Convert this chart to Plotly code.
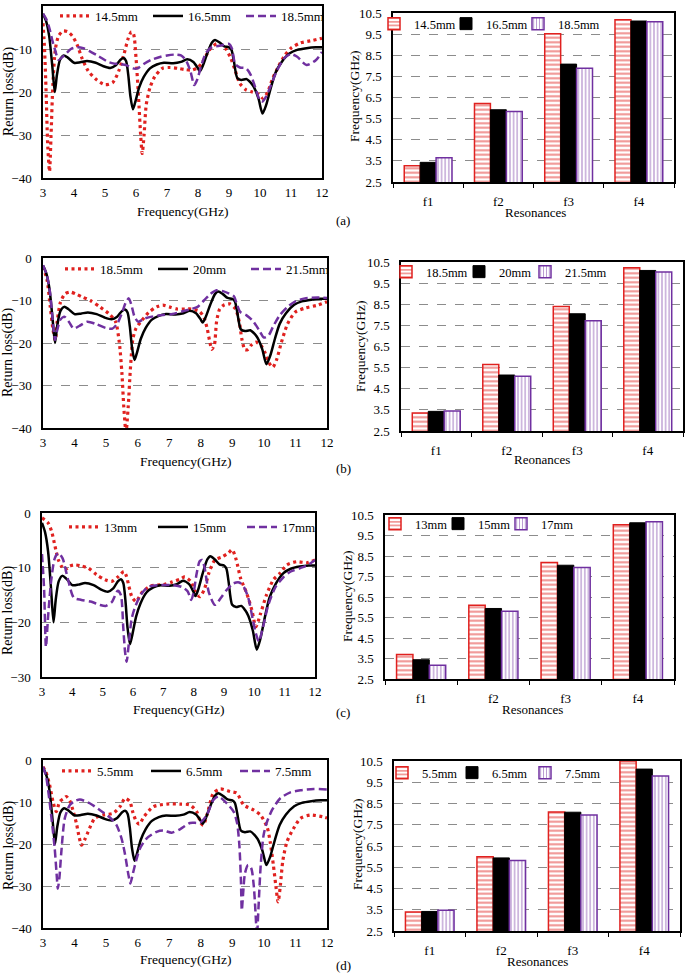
import plotly.graph_objects as go

FONT = "Liberation Serif"
RED = "#e0211f"
BLACK = "#000000"
PURPLE = "#7030a0"
GRID = "#8c8c8c"

# ---------------- data: return loss curves ----------------
# reference design curve (black, identical in all four panels)
ref_freq = [3.0, 3.1, 3.2, 3.3, 3.38, 3.45, 3.55, 3.67, 3.8, 4.0, 4.2, 4.42, 4.7, 4.95, 5.17, 5.35, 5.5, 5.6,
            5.68, 5.75, 5.82, 5.9, 5.97, 6.1, 6.25, 6.45, 6.67, 6.9, 7.2, 7.45, 7.65, 7.85, 8.0, 8.06, 8.15, 8.3,
            8.45, 8.55, 8.7, 8.85, 9.0, 9.08, 9.15, 9.27, 9.4, 9.57, 9.7, 9.8, 9.95, 10.08, 10.2, 10.35, 10.5,
            10.7, 10.96, 11.2, 11.5, 11.8, 12.0]
ref_rl = [-1.8, -3.5, -7, -14, -20, -16, -12.5, -11.5, -12, -13.2, -13.1, -12.8, -13.2, -14, -14.4, -13.8, -12.5,
          -12.1, -12.8, -16, -21, -24, -22.5, -19, -16.5, -14.5, -13.6, -13.2, -13.3, -13.0, -12.4, -13, -14.5,
          -15.2, -14, -11, -8.5, -7.9, -8.5, -9.4, -9.6, -10.2, -12.5, -16.8, -17.2, -17, -17.8, -18.8, -21.5,
          -25, -23, -19, -15.5, -13, -11, -10.2, -9.8, -9.6, -9.6]

# (a)
a_names = ["14.5mm", "16.5mm", "18.5mm"]
a_red_f = [3.0, 3.05, 3.1, 3.15, 3.21, 3.26, 3.32, 3.4, 3.5, 3.65, 3.8, 3.95, 4.1, 4.25, 4.45, 4.7, 5.0, 5.25,
           5.45, 5.62, 5.75, 5.85, 5.92, 6.0, 6.08, 6.15, 6.2, 6.26, 6.33, 6.45, 6.6, 6.85, 7.1, 7.35, 7.6, 7.8,
           8.0, 8.15, 8.3, 8.45, 8.6, 8.75, 8.9, 9.05, 9.2, 9.35, 9.55, 9.75, 9.95, 10.1, 10.25, 10.4, 10.6,
           10.8, 11.0, 11.3, 11.7, 12.0]
a_red_rl = [-4, -10, -20, -32, -38.5, -30, -18, -10, -7, -5.8, -6, -7, -9, -12, -15, -17, -18.3, -17.8, -15, -11,
            -7.5, -6, -6.5, -12, -21, -30, -34.3, -30, -23, -19, -16.5, -14.5, -14.3, -14.5, -14.8, -14.9, -14.3,
            -13, -11, -9.5, -8.8, -9, -10, -12, -15, -18, -19.5, -20, -20.5, -21.5, -20, -17, -14, -11.5, -9.8,
            -8.6, -8.0, -7.5]
a_pur_f = [3.0, 3.1, 3.2, 3.3, 3.4, 3.5, 3.6, 3.75, 3.9, 4.1, 4.3, 4.5, 4.8, 5.1, 5.3, 5.5, 5.7, 5.9, 6.05, 6.25,
           6.5, 6.8, 7.0, 7.25, 7.45, 7.6, 7.75, 7.88, 7.98, 8.1, 8.25, 8.45, 8.65, 8.85, 9.0, 9.1, 9.2, 9.35,
           9.55, 9.7, 9.85, 10.0, 10.08, 10.2, 10.35, 10.55, 10.8, 11.0, 11.2, 11.5, 11.8, 12.0]
a_pur_rl = [-1.8, -3, -5, -8, -10.5, -12.5, -12, -11, -10, -9.6, -9.8, -10.5, -11.7, -13, -13.4, -13.5, -13.8,
            -14.5, -14.5, -13.5, -12.5, -11.8, -11.5, -11.3, -11.5, -12.5, -15, -18.4, -17, -14, -11, -9.5, -9.3,
            -9.0, -8.8, -10, -13.5, -14.3, -14.5, -16, -19, -22, -22.2, -21, -18.5, -15, -12, -11.2, -11.8,
            -13.7, -12.6, -10.7]

# (b)
b_names = ["18.5mm", "20mm", "21.5mm"]
b_red_f = [3.0, 3.13, 3.23, 3.32, 3.39, 3.45, 3.55, 3.7, 3.86, 4.05, 4.25, 4.5, 4.8, 5.1, 5.3, 5.42, 5.5, 5.56,
           5.63, 5.7, 5.77, 5.85, 5.95, 6.1, 6.35, 6.6, 6.8, 7.0, 7.25, 7.5, 7.7, 7.95, 8.1, 8.2, 8.28, 8.35,
           8.43, 8.5, 8.6, 8.75, 8.92, 9.1, 9.22, 9.3, 9.4, 9.5, 9.6, 9.75, 9.9, 10.05, 10.15, 10.28, 10.4,
           10.55, 10.75, 11.0, 11.3, 11.7, 12.0]
b_red_rl = [-2, -5.2, -11.5, -17, -19.3, -15, -10.5, -8.4, -8, -8.5, -9.2, -10, -11.5, -13.2, -15, -20, -27, -35,
            -41, -35, -26, -19, -16.5, -15, -12.8, -11.5, -11.1, -11.5, -12, -12, -12, -12.5, -14, -16.5, -19.5,
            -21.5, -20.5, -15, -12, -11, -10.8, -12, -15, -19, -21.6, -21.5, -20.5, -19.8, -20.5, -22.5, -24.5,
            -25.7, -24, -20, -15.5, -12.7, -11.8, -11.1, -10.3]
b_pur_f = [3.0, 3.12, 3.22, 3.3, 3.38, 3.45, 3.55, 3.68, 3.82, 3.97, 4.15, 4.4, 4.7, 5.0, 5.2, 5.35, 5.5, 5.62,
           5.72, 5.8, 5.9, 6.02, 6.2, 6.45, 6.8, 7.1, 7.4, 7.7, 7.9, 8.1, 8.3, 8.5, 8.7, 8.9, 9.05, 9.15, 9.25,
           9.45, 9.65, 9.85, 10.0, 10.15, 10.3, 10.5, 10.75, 11.0, 11.3, 11.7, 12.0]
b_pur_rl = [-1.7, -4, -8, -14, -19.3, -17, -14.5, -13.8, -15, -16.6, -16, -15, -15.6, -16.5, -16.6, -15.5, -13,
            -10.5, -9.5, -11, -13.8, -15, -14.3, -13.8, -13.4, -13.2, -12.6, -12, -11.5, -10, -8.5, -7.6, -7.8,
            -8.4, -9, -11, -12.7, -13.5, -14.8, -17, -18.7, -18.2, -16, -13.5, -11.5, -10.2, -9.5, -9.3, -9.4]

# (c)
c_names = ["13mm", "15mm", "17mm"]
c_red_f = [3.0, 3.2, 3.32, 3.43, 3.54, 3.65, 3.76, 3.92, 4.1, 4.3, 4.53, 4.8, 5.08, 5.3, 5.52, 5.7, 5.78, 5.87,
           5.96, 6.1, 6.3, 6.6, 7.0, 7.3, 7.55, 7.71, 7.9, 8.05, 8.2, 8.35, 8.5, 8.7, 8.95, 9.15, 9.27, 9.4,
           9.55, 9.75, 9.92, 10.05, 10.2, 10.4, 10.63, 10.85, 11.07, 11.4, 11.73, 12.0]
c_red_rl = [-0.9, -1.8, -3.4, -6.1, -8.6, -9.8, -10.4, -9.7, -9.5, -9.7, -10.1, -11.3, -12.2, -12.5, -11.6,
            -10.7, -11.5, -13.5, -15.3, -16.2, -14.5, -13.3, -13.1, -12.6, -12.1, -11.7, -12.5, -14.3, -15.3,
            -14, -11, -8.6, -8.0, -7.3, -6.7, -8.5, -12, -14.7, -17.8, -20.8, -18.5, -15, -12.2, -11.0, -9.5,
            -8.9, -9.1, -8.6]
c_pur_f = [3.0, 3.07, 3.13, 3.2, 3.3, 3.42, 3.54, 3.68, 3.85, 4.05, 4.3, 4.6, 4.9, 5.1, 5.3, 5.5, 5.6, 5.68,
           5.74, 5.79, 5.86, 5.95, 6.05, 6.25, 6.5, 6.9, 7.3, 7.6, 7.8, 7.92, 8.0, 8.1, 8.2, 8.28, 8.36, 8.5,
           8.7, 8.9, 9.1, 9.3, 9.5, 9.65, 9.8, 9.95, 10.05, 10.15, 10.28, 10.45, 10.7, 10.95, 11.2, 11.5, 11.8,
           12.0]
c_pur_rl = [-7.5, -14, -24.5, -19, -12.5, -8.3, -7.3, -8.3, -12, -15.5, -15.9, -16.2, -16.8, -17, -16.3, -14.2,
            -15, -21, -25.5, -27.2, -24, -19.5, -17.5, -15, -13.5, -13.2, -13.2, -13.5, -14.3, -15.9, -14.5, -11,
            -8.8, -8.6, -10, -14.5, -16.8, -15.5, -14, -12.9, -12.7, -13.5, -15.5, -19.5, -22, -23.5, -21, -17,
            -13.5, -11.8, -10.7, -10.1, -9.4, -8.6]

# (d)
d_names = ["5.5mm", "6.5mm", "7.5mm"]
d_red_f = [3.0, 3.1, 3.21, 3.32, 3.42, 3.53, 3.65, 3.74, 3.85, 3.95, 4.06, 4.15, 4.22, 4.32, 4.43, 4.64, 4.91,
           5.22, 5.44, 5.6, 5.75, 5.85, 5.95, 6.05, 6.2, 6.5, 6.92, 7.34, 7.66, 7.87, 8.0, 8.08, 8.2, 8.4, 8.62,
           8.93, 9.14, 9.36, 9.67, 9.89, 10.1, 10.2, 10.3, 10.38, 10.45, 10.52, 10.6, 10.73, 10.94, 11.16,
           11.47, 11.85, 12.0]
d_red_rl = [-1.6, -3, -6, -10, -12.3, -9.9, -9.2, -8.7, -9.7, -12, -15.1, -18.5, -20.3, -19, -17.1, -13.9, -13.1,
            -12.7, -11.1, -9.1, -9.9, -12.5, -14.5, -15.3, -13.5, -11.1, -10.5, -10.5, -10.7, -12.3, -15, -15.5,
            -13, -7.9, -6.9, -7.5, -7.9, -10.7, -11.9, -13.1, -15.9, -19.5, -25, -30, -33.8, -30, -24, -19.5,
            -16.3, -13.9, -13.1, -13.5, -13.8]
d_pur_f = [3.0, 3.1, 3.21, 3.3, 3.37, 3.43, 3.47, 3.52, 3.58, 3.69, 3.85, 4.0, 4.17, 4.48, 4.8, 5.12, 5.33, 5.49,
           5.6, 5.7, 5.77, 5.85, 5.95, 6.07, 6.28, 6.6, 6.81, 7.08, 7.34, 7.66, 7.98, 8.19, 8.4, 8.56, 8.77,
           9.04, 9.15, 9.22, 9.27, 9.3, 9.34, 9.4, 9.5, 9.6, 9.68, 9.74, 9.78, 9.83, 9.9, 9.99, 10.1, 10.26,
           10.52, 10.84, 11.16, 11.58, 12.0]
d_pur_rl = [-1.6, -4, -10, -16, -21, -27, -30.6, -28, -22, -13.9, -10.7, -9.8, -9.4, -10.3, -11.9, -13.7, -15.5,
            -18.7, -22.5, -27, -29.4, -27, -24, -21.1, -18.7, -17.1, -16.8, -17.3, -16.5, -15, -14.9, -13.1, -9.5,
            -8.7, -9.9, -12.3, -15, -20, -28, -35.8, -32, -27, -25, -25.8, -30, -37, -42, -35, -25, -17.9,
            -14.7, -11.9, -9.1, -7.7, -7.2, -6.9, -7.0]

# ---------------- data: resonance bars ----------------
resonances = ["f1", "f2", "f3", "f4"]
a_bar_red = [3.27, 6.22, 9.52, 10.18]
a_bar_black = [3.43, 5.92, 8.08, 10.12]
a_bar_pur = [3.65, 5.84, 7.89, 10.09]
b_bar_red = [3.35, 5.65, 8.39, 10.23]
b_bar_black = [3.43, 5.15, 8.05, 10.10]
b_bar_pur = [3.45, 5.09, 7.72, 10.03]
c_bar_red = [3.69, 6.10, 8.18, 10.02]
c_bar_black = [3.44, 5.94, 8.05, 10.12]
c_bar_pur = [3.17, 5.80, 7.94, 10.17]
d_bar_red = [3.39, 5.99, 8.10, 10.50]
d_bar_black = [3.42, 5.94, 8.09, 10.12]
d_bar_pur = [3.48, 5.82, 7.96, 9.79]

freq_ticks = [3, 4, 5, 6, 7, 8, 9, 10, 11, 12]
bar_ticks = [2.5, 3.5, 4.5, 5.5, 6.5, 7.5, 8.5, 9.5, 10.5]

W, H = 685, 974


def px(x):
    return x / W


def py(y):
    return 1 - y / H


fig = go.Figure()

# panel geometry (pixels): left, right, top, bottom
line_boxes = [(43, 322, 6, 178), (43, 327, 258, 428), (42, 315, 513, 677), (43, 327, 760, 928)]
bar_boxes = [(393, 674, 13, 182), (401, 683, 262, 431), (385, 674, 515, 679), (394, 680, 761, 931)]

line_data = [
    (a_names, a_red_f, a_red_rl, a_pur_f, a_pur_rl, -40),
    (b_names, b_red_f, b_red_rl, b_pur_f, b_pur_rl, -40),
    (c_names, c_red_f, c_red_rl, c_pur_f, c_pur_rl, -30),
    (d_names, d_red_f, d_red_rl, d_pur_f, d_pur_rl, -40),
]
bar_data = [
    (a_names, a_bar_red, a_bar_black, a_bar_pur),
    (b_names, b_bar_red, b_bar_black, b_bar_pur),
    (c_names, c_bar_red, c_bar_black, c_bar_pur),
    (d_names, d_bar_red, d_bar_black, d_bar_pur),
]
line_legend_pos = [(55, 16), (60, 269), (64, 527), (57, 771)]
line_entry = [48, 48, 44, 44]
# bar legends: one small legend per bar series (left x of each legend box, row y)
bar_legend_x = [(374, 446, 518), (386, 459, 525), (375, 438, 501), (382, 452, 525)]
bar_legend_y = [24, 272, 524, 773]
panel_letters = ["(a)", "(b)", "(c)", "(d)"]
letter_y = [220, 468, 712, 965]
x_titles_bar = ["Resonances", "Reonances", "Resonances", "Resonances"]

axis_common = dict(showline=True, linecolor="black", linewidth=1.5, mirror=True,
                   tickfont=dict(family=FONT, size=13, color="black"), zeroline=False)

for i in range(4):
    li = 2 * i + 1
    bi = 2 * i + 2
    lx = "x" if li == 1 else f"x{li}"
    ly = "y" if li == 1 else f"y{li}"
    bx = f"x{bi}"
    by = f"y{bi}"
    lleg = "legend" if i == 0 else f"legend{i + 1}"
    bleg = [f"legend{5 + 3 * i + k}" for k in range(3)]

    names, rf, rr, pf, pr, ymin = line_data[i]
    fig.add_trace(go.Scatter(x=rf, y=rr, name=names[0], mode="lines", xaxis=lx, yaxis=ly, legend=lleg,
                             line=dict(color=RED, width=3.2, dash="3px,3.5px", shape="spline", smoothing=0.7)))
    fig.add_trace(go.Scatter(x=ref_freq, y=ref_rl, name=names[1], mode="lines", xaxis=lx, yaxis=ly, legend=lleg,
                             line=dict(color=BLACK, width=2.5, shape="spline", smoothing=0.7)))
    fig.add_trace(go.Scatter(x=pf, y=pr, name=names[2], mode="lines", xaxis=lx, yaxis=ly, legend=lleg,
                             line=dict(color=PURPLE, width=2.5, dash="8px,4px", shape="spline", smoothing=0.7)))

    bnames, vr, vb, vp = bar_data[i]
    fig.add_trace(go.Bar(x=resonances, y=vr, name=bnames[0], xaxis=bx, yaxis=by, legend=bleg[0],
                         marker=dict(color="white", line=dict(color=RED, width=1.5),
                                     pattern=dict(shape="-", fgcolor=RED, bgcolor="white", size=4.5,
                                                  solidity=0.45))))
    fig.add_trace(go.Bar(x=resonances, y=vb, name=bnames[1], xaxis=bx, yaxis=by, legend=bleg[1],
                         marker=dict(color=BLACK, line=dict(color=BLACK, width=1))))
    fig.add_trace(go.Bar(x=resonances, y=vp, name=bnames[2], xaxis=bx, yaxis=by, legend=bleg[2],
                         marker=dict(color="white", line=dict(color=PURPLE, width=1.5),
                                     pattern=dict(shape="|", fgcolor=PURPLE, bgcolor="white", size=3.6,
                                                  solidity=0.35))))

    l0, l1, t0, t1 = line_boxes[i]
    b0, b1, u0, u1 = bar_boxes[i]
    lxk = "xaxis" if li == 1 else f"xaxis{li}"
    lyk = "yaxis" if li == 1 else f"yaxis{li}"
    fig.layout[lxk] = dict(domain=[px(l0), px(l1)], anchor=ly, range=[3, 12], tickvals=freq_ticks,
                           showgrid=False, ticks="", ticklabelstandoff=2, **axis_common)
    fig.layout[lyk] = dict(domain=[py(t1), py(t0)], anchor=lx, range=[ymin, 0], dtick=10,
                           showgrid=True, gridcolor=GRID, griddash="dash", gridwidth=1.3,
                           ticks="", ticklabelstandoff=7, **axis_common)
    fig.layout[f"xaxis{bi}"] = dict(domain=[px(b0), px(b1)], anchor=by, type="category",
                                    tickson="boundaries", ticks="outside", ticklen=4, tickcolor="black",
                                    tickwidth=1.3, showgrid=False, ticklabelstandoff=7, **axis_common)
    fig.layout[f"yaxis{bi}"] = dict(domain=[py(u1), py(u0)], anchor=bx, range=[2.5, 10.5],
                                    tickvals=bar_ticks, tickformat=".1f", showgrid=True, gridcolor=GRID,
                                    griddash="dash", gridwidth=1.3, ticks="", ticklabelstandoff=7,
                                    **axis_common)

    lx0, lyc = line_legend_pos[i]
    fig.layout[lleg] = dict(orientation="h", x=px(lx0), y=py(lyc), xanchor="left", yanchor="middle",
                            bgcolor="rgba(0,0,0,0)", font=dict(family=FONT, size=13, color="black"),
                            itemwidth=30, entrywidth=line_entry[i], entrywidthmode="pixels",
                            tracegroupgap=0, itemclick=False)
    for k in range(3):
        fig.layout[bleg[k]] = dict(orientation="h", x=px(bar_legend_x[i][k]), y=py(bar_legend_y[i]),
                                   xanchor="left", yanchor="middle", bgcolor="rgba(0,0,0,0)",
                                   font=dict(family=FONT, size=12.5, color="black"), itemwidth=30,
                                   tracegroupgap=0, itemclick=False)

# axis titles and panel letters as annotations
line_xt = [(182, 211), (185, 461), (178, 709), (185, 959)]
line_yt = [(9, 92), (8, 353), (8, 611), (9, 846)]
bar_xt = [(535, 212), (542, 459), (532, 709), (537, 961)]
bar_yt = [(354, 97), (360, 347), (347, 597), (357, 845)]


def label(text, x, y, angle=0, size=14):
    return dict(text=text, x=px(x), y=py(y), xref="paper", yref="paper", xanchor="center", yanchor="middle",
                textangle=angle, showarrow=False, font=dict(family=FONT, size=size, color="black"))


ann = []
for i in range(4):
    ann.append(label("Frequency(GHz)", *line_xt[i], size=13.5))
    ann.append(label("Return loss(dB)", *line_yt[i], angle=-90, size=14))
    ann.append(label(x_titles_bar[i], *bar_xt[i], size=13))
    ann.append(label("Frequency(GHz)", *bar_yt[i], angle=-90, size=13.5))
    ann.append(label(panel_letters[i], 343, letter_y[i], size=13))

fig.update_layout(width=W, height=H, margin=dict(l=0, r=0, t=0, b=0, autoexpand=False), autosize=False,
                  paper_bgcolor="white", plot_bgcolor="white", barmode="group", bargap=0.32,
                  bargroupgap=0, annotations=ann, font=dict(family=FONT, color="black"))

fig.write_html("out.html", config={"displayModeBar": False},
               post_script="document.body.style.margin='0px';document.body.style.overflow='hidden';")
